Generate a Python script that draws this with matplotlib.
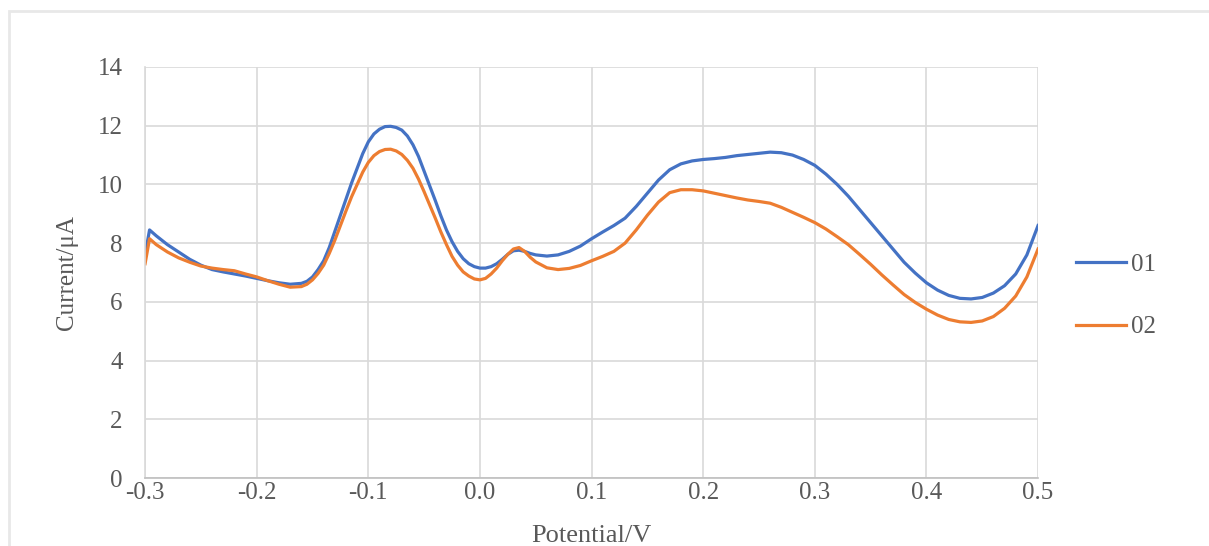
import matplotlib.pyplot as plt
from matplotlib.patches import Rectangle

plt.rcParams['font.family'] = ['Liberation Serif', 'DejaVu Serif']

potential = [-0.3, -0.296, -0.29, -0.28, -0.27, -0.26, -0.25, -0.24, -0.23, -0.22, -0.21,
             -0.2, -0.19, -0.18, -0.17, -0.16, -0.155,
             -0.15, -0.145, -0.14, -0.135, -0.13, -0.125, -0.12, -0.115, -0.11, -0.105,
             -0.1, -0.095, -0.09, -0.085, -0.08, -0.075, -0.07, -0.065, -0.06, -0.055,
             -0.05, -0.045, -0.04, -0.035, -0.03, -0.025, -0.02, -0.015, -0.01, -0.005,
             0.0, 0.005, 0.01, 0.015, 0.02, 0.025, 0.03, 0.035, 0.04, 0.045,
             0.05, 0.06, 0.07, 0.08, 0.09,
             0.1, 0.11, 0.12, 0.13, 0.14, 0.15, 0.16, 0.17, 0.18, 0.19,
             0.2, 0.21, 0.22, 0.23, 0.24, 0.25, 0.26, 0.27, 0.28, 0.29,
             0.3, 0.31, 0.32, 0.33, 0.34, 0.35, 0.36, 0.37, 0.38, 0.39,
             0.4, 0.41, 0.42, 0.43, 0.44, 0.45, 0.46, 0.47, 0.48, 0.49, 0.5]

current_01 = [7.6, 8.45, 8.25, 7.95, 7.7, 7.45, 7.25, 7.1, 7.02, 6.95, 6.88,
              6.8, 6.72, 6.65, 6.6, 6.63, 6.7,
              6.85, 7.1, 7.4, 7.85, 8.4, 8.95, 9.5, 10.05, 10.55, 11.05,
              11.45, 11.72, 11.88, 11.97, 11.98, 11.94, 11.85, 11.65, 11.35, 10.95,
              10.45, 9.95, 9.45, 8.93, 8.45, 8.05, 7.72, 7.47, 7.3, 7.2,
              7.15, 7.15, 7.2, 7.3, 7.45, 7.62, 7.74, 7.76, 7.72, 7.65,
              7.6, 7.56, 7.6, 7.72, 7.9,
              8.15, 8.38, 8.6, 8.85, 9.25, 9.7, 10.15, 10.5, 10.7, 10.8,
              10.85, 10.88, 10.92, 10.98, 11.02, 11.06, 11.1, 11.08, 11.0, 10.85,
              10.65, 10.35, 10.0, 9.6, 9.15, 8.7, 8.25, 7.8, 7.35, 6.98,
              6.65, 6.4, 6.22, 6.12, 6.1, 6.15, 6.3, 6.55, 6.95, 7.6, 8.6]

current_02 = [7.3, 8.15, 7.95, 7.7, 7.5, 7.35, 7.22, 7.15, 7.1, 7.06, 6.95,
              6.85, 6.72, 6.6, 6.5, 6.52, 6.6,
              6.75, 6.97, 7.25, 7.65, 8.1, 8.6, 9.1, 9.58, 10.0, 10.42,
              10.75, 10.98, 11.12, 11.19, 11.2, 11.14, 11.02, 10.82, 10.55, 10.18,
              9.75, 9.3, 8.85, 8.38, 7.95, 7.55, 7.25, 7.02, 6.88, 6.78,
              6.75, 6.8, 6.95, 7.15, 7.4, 7.62, 7.8, 7.85, 7.72, 7.52,
              7.36, 7.16, 7.1, 7.14, 7.24,
              7.4, 7.55, 7.72, 8.0, 8.45, 8.95, 9.4, 9.72, 9.82, 9.82,
              9.78, 9.7, 9.62, 9.54, 9.47, 9.42, 9.36, 9.22, 9.05, 8.88,
              8.7, 8.48, 8.22, 7.95, 7.62, 7.28, 6.92, 6.58, 6.25, 5.98,
              5.75, 5.55, 5.4, 5.32, 5.3, 5.35, 5.5, 5.78, 6.2, 6.85, 7.8]

x_ticks = [-0.3, -0.2, -0.1, 0.0, 0.1, 0.2, 0.3, 0.4, 0.5]
y_ticks = [0, 2, 4, 6, 8, 10, 12, 14]

fig = plt.figure(figsize=(12.09, 5.46), dpi=100)
# light outer frame, running off the right and bottom edges
fig.patches.append(Rectangle((0.0075, -0.1), 1.1, 1.08, transform=fig.transFigure,
                             fill=False, edgecolor='#e8e8e8', linewidth=2))
ax = fig.add_axes([0.12, 0.1245, 0.7386, 0.7528])

ax.plot(potential, current_01, color='#4472C4', linewidth=2.3, label='01',
        solid_joinstyle='round')
ax.plot(potential, current_02, color='#ED7D31', linewidth=2.3, label='02',
        solid_joinstyle='round')

ax.set_xlim(-0.3, 0.5)
ax.set_ylim(0, 14)
ax.set_xticks(x_ticks)
ax.set_xticklabels(['%.1f' % t for t in x_ticks])
ax.set_yticks(y_ticks)
ax.grid(True, color='#d9d9d9', linewidth=1.2)
ax.set_axisbelow(True)
for s in ['top', 'right']:
    ax.spines[s].set_visible(False)
ax.spines['left'].set_color('#d9d9d9')
ax.spines['bottom'].set_color('#bfbfbf')
ax.spines['left'].set_linewidth(1.2)
ax.spines['bottom'].set_linewidth(1.2)
ax.tick_params(axis='x', length=0, labelsize=18, labelcolor='#595959', pad=3)
ax.tick_params(axis='y', length=0, labelsize=18, labelcolor='#595959', pad=16)

ax.set_xlabel('Potential/V', fontsize=19, color='#595959', labelpad=15)
ax.set_ylabel('Current/μA', fontsize=18, color='#595959', labelpad=14)

fig.legend(loc='center left', bbox_to_anchor=(0.871, 0.458), frameon=False,
           fontsize=18, handlelength=2.0, labelspacing=1.6, handletextpad=0.2,
           labelcolor='#595959')

fig.savefig('out.png', dpi=100)
